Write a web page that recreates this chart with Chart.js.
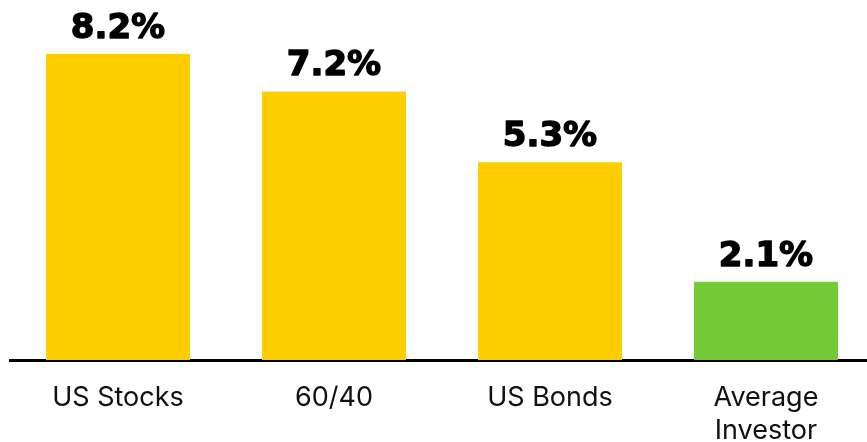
<!DOCTYPE html>
<html>
<head>
<meta charset="utf-8">
<script src="https://cdn.jsdelivr.net/npm/chart.js@4/dist/chart.umd.min.js"></script>
<style>
  html, body { margin: 0; padding: 0; background: #fff; }
  #wrap { width: 867px; height: 442px; overflow: hidden; }
</style>
</head>
<body>
<div id="wrap"><canvas id="chart" width="884" height="442"></canvas></div>
<script>
const categories = ['US Stocks', '60/40', 'US Bonds', ['Average', 'Investor']]
const returns = [8.2, 7.2, 5.3, 2.1]
const barColors = ['#FFCE00', '#FFCE00', '#FFCE00', '#74C936']

// percent labels on top of each bar (stroked a little for a heavier weight)
const valueLabels = {
  id: 'valueLabels',
  afterDatasetsDraw(chart) {
    const ctx = chart.ctx
    const meta = chart.getDatasetMeta(0)
    ctx.save()
    ctx.font = 'bold 34px "DejaVu Sans"'
    ctx.fillStyle = '#000'
    ctx.strokeStyle = '#000'
    ctx.lineWidth = 1.4
    ctx.lineJoin = 'round'
    ctx.textAlign = 'center'
    ctx.textBaseline = 'alphabetic'
    meta.data.forEach((bar, i) => {
      const txt = returns[i].toFixed(1) + '%'
      ctx.fillText(txt, bar.x, bar.y - 16)
      ctx.strokeText(txt, bar.x, bar.y - 16)
    })
    ctx.restore()
  }
}

new Chart(document.getElementById('chart'), {
  type: 'bar',
  data: {
    labels: categories,
    datasets: [{
      data: returns,
      backgroundColor: barColors,
      borderWidth: 0,
      barPercentage: 1,
      categoryPercentage: 2 / 3
    }]
  },
  options: {
    responsive: false,
    animation: false,
    layout: { padding: { left: 10, right: 10, top: 0, bottom: 0 } },
    plugins: { legend: { display: false }, tooltip: { enabled: false } },
    scales: {
      x: {
        z: 1,
        afterFit(scale) { scale.height = 82 },
        grid: { display: false, drawTicks: false },
        border: { display: true, color: '#000', width: 3 },
        ticks: {
          color: '#111',
          padding: 21,
          font: { family: 'Inter', size: 27, lineHeight: 33 / 27 }
        }
      },
      y: {
        display: false,
        min: 0,
        max: 9.65
      }
    }
  },
  plugins: [valueLabels]
})
</script>
</body>
</html>
